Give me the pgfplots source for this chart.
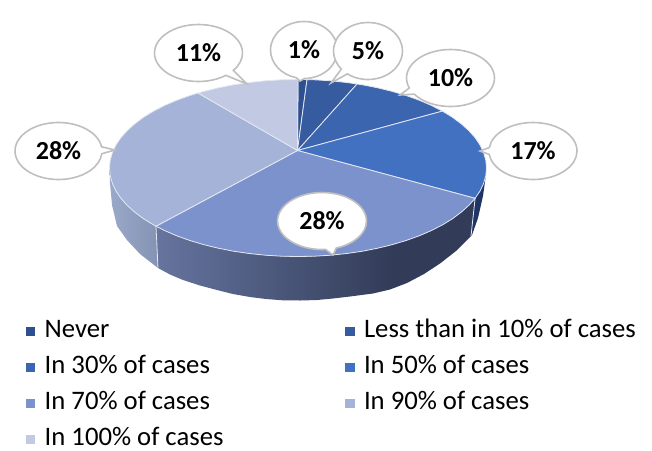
\documentclass[border=0pt]{standalone}
\usepackage{fontspec}
\setmainfont{Carlito}
\usepackage{pgfplots}
\pgfplotsset{compat=1.18}
\usetikzlibrary{shapes.callouts}
\definecolor{cA}{HTML}{2F5090}
\definecolor{cB}{HTML}{365B9F}
\definecolor{cC}{HTML}{3B65AE}
\definecolor{cD}{HTML}{4371C2}
\definecolor{cE}{HTML}{7C92CC}
\definecolor{cF}{HTML}{A4B3D7}
\definecolor{cG}{HTML}{C1CAE2}
\definecolor{rim}{HTML}{E4E8F2}
\definecolor{cgray}{HTML}{BFBFBF}
\definecolor{sA}{HTML}{66749F}
\definecolor{sB}{HTML}{323C58}
\definecolor{sC}{HTML}{9AA9C9}
\definecolor{sD}{HTML}{8593B3}
\definecolor{sE}{HTML}{1F3566}
\pgfdeclarehorizontalshading{sidesev}{100bp}{color(0bp)=(sA);color(25bp)=(sA);color(62bp)=(sB);color(75bp)=(sB);color(100bp)=(sB)}
\pgfdeclarehorizontalshading{sideni}{100bp}{color(0bp)=(sC);color(25bp)=(sC);color(75bp)=(sD);color(100bp)=(sD)}
\tikzset{lab/.style={ellipse callout,draw=cgray,line width=1.6pt,fill=white,inner sep=0pt,outer sep=0pt,callout pointer arc=14,font=\fontsize{26}{26}\selectfont\bfseries,text=black}}
\begin{document}
\begin{tikzpicture}
\begin{axis}[
  scale only axis,width=652pt,height=449pt,
  xmin=0,xmax=652,ymin=0,ymax=449,y dir=reverse,
  hide axis,clip=false,
  legend columns=2,
  legend cell align=left,
  legend image code/.code={\fill[#1,draw=none] (0pt,-4.7pt) rectangle (9.5pt,4.7pt);},
  legend style={at={(axis cs:25.7,321)},anchor=north west,draw=none,fill=none,inner sep=0pt,outer sep=0pt,
    font=\fontsize{26.7}{26.7}\selectfont,row sep=14.5pt,
    nodes={text height=16pt,text depth=5.5pt,inner sep=0pt,inner xsep=3pt},
    /tikz/column 1/.style={column sep=6.5pt},
    /tikz/column 2/.style={column sep=118.5pt},
    /tikz/column 3/.style={column sep=6.5pt}},
]
% sides
\addplot[forget plot,draw=none,shade,shading=sideni] coordinates {(109.5,168)(110.2,175.7)(112.4,183.4)(115.9,190.9)(120.9,198.3)(127.2,205.4)(134.8,212.2)(143.6,218.8)(153.6,224.9)(156,226.2)(158,268)(140,254)(127,240)(117,226)(112,205)(110,183)} --cycle;
\addplot[forget plot,draw=none,shade,shading=sidesev] coordinates {(156,226.2)(164.7,230.6)(176.8,235.8)(189.9,240.5)(203.7,244.6)(218.3,248.2)(233.5,251.2)(249.2,253.5)(265.3,255.2)(281.6,256.2)(298,256.5)(314.4,256.2)(330.7,255.2)(346.8,253.5)(362.5,251.2)(377.7,248.2)(392.3,244.6)(406.1,240.5)(419.2,235.8)(431.3,230.6)(442.4,224.9)(452.4,218.8)(461.2,212.2)(468.8,205.4)(475.1,198.3)(471,236)(456,251)(440,263.5)(424,274)(407,283)(390,289.5)(373,293.5)(350,296.5)(333,298.5)(317,300)(300,300.5)(283,300.3)(266,299)(250,297)(233,294)(217,290)(200,285.5)(183,280)(170,274.5)(158,268)} --cycle;
\addplot[forget plot,draw=none,fill=sE] coordinates {(475.1,198.3)(480.1,190.9)(483.6,183.4)(485.8,175.7)(483,196)(478,218)(472,235)(471,236)} --cycle;
\addplot[forget plot,draw=rim,line width=0.8pt] coordinates {(156,226.2)(158,268)};
\addplot[forget plot,draw=rim,line width=0.8pt] coordinates {(475.1,198.3)(471,236)};
% top wedges
\addplot[draw=rim,line width=0.8pt,fill=cA] coordinates {(297.5,150.5)(298,79.5)(307,79.6)} --cycle;
\addlegendentry{Never}
\addplot[draw=rim,line width=0.8pt,fill=cB] coordinates {(297.5,150.5)(307,79.6)(314.4,79.8)(330.7,80.8)(346.8,82.5)(357,84)} --cycle;
\addlegendentry{Less than in 10\% of cases}
\addplot[draw=rim,line width=0.8pt,fill=cC] coordinates {(297.5,150.5)(357,84)(362.5,84.8)(377.7,87.8)(392.3,91.4)(406.1,95.5)(419.2,100.2)(431.3,105.4)(442.4,111.1)} --cycle;
\addlegendentry{In 30\% of cases}
\addplot[draw=rim,line width=0.8pt,fill=cD] coordinates {(297.5,150.5)(442.4,111.1)(452.4,117.2)(461.2,123.8)(468.8,130.6)(475.1,137.7)(480.1,145.1)(483.6,152.6)(485.8,160.3)(486.5,168)(485.8,175.7)(483.6,183.4)(480.1,190.9)(475.1,198.3)} --cycle;
\addlegendentry{In 50\% of cases}
\addplot[draw=rim,line width=0.8pt,fill=cE] coordinates {(297.5,150.5)(475.1,198.3)(468.8,205.4)(461.2,212.2)(452.4,218.8)(442.4,224.9)(431.3,230.6)(419.2,235.8)(406.1,240.5)(392.3,244.6)(377.7,248.2)(362.5,251.2)(346.8,253.5)(330.7,255.2)(314.4,256.2)(298,256.5)(281.6,256.2)(265.3,255.2)(249.2,253.5)(233.5,251.2)(218.3,248.2)(203.7,244.6)(189.9,240.5)(176.8,235.8)(164.7,230.6)(156,226.2)} --cycle;
\addlegendentry{In 70\% of cases}
\addplot[draw=rim,line width=0.8pt,fill=cF] coordinates {(297.5,150.5)(156,226.2)(153.6,224.9)(143.6,218.8)(134.8,212.2)(127.2,205.4)(120.9,198.3)(115.9,190.9)(112.4,183.4)(110.2,175.7)(109.5,168)(110.2,160.3)(112.4,152.6)(115.9,145.1)(120.9,137.7)(127.2,130.6)(134.8,123.8)(143.6,117.2)(153.6,111.1)(164.7,105.4)(176.8,100.2)(189.9,95.5)(198,93)} --cycle;
\addlegendentry{In 90\% of cases}
\addplot[draw=rim,line width=0.8pt,fill=cG] coordinates {(297.5,150.5)(198,93)(203.7,91.4)(218.3,87.8)(233.5,84.8)(249.2,82.5)(265.3,80.8)(281.6,79.8)(298,79.5)} --cycle;
\addlegendentry{In 100\% of cases}
% labels
\node[lab,minimum width=88pt,minimum height=57pt,callout absolute pointer={(axis cs:247,84)}] at (axis cs:198.5,53) {11\%};
\node[lab,minimum width=67pt,minimum height=57pt,callout absolute pointer={(axis cs:300,81)}] at (axis cs:304,50) {1\%};
\node[lab,minimum width=69pt,minimum height=57pt,callout absolute pointer={(axis cs:331,83)}] at (axis cs:368,51) {5\%};
\node[lab,minimum width=88pt,minimum height=57pt,callout absolute pointer={(axis cs:400,95)}] at (axis cs:450.5,78) {10\%};
\node[lab,minimum width=88pt,minimum height=57pt,callout absolute pointer={(axis cs:480,151)}] at (axis cs:533,151) {17\%};
\node[lab,minimum width=87pt,minimum height=57pt,callout absolute pointer={(axis cs:115,150)}] at (axis cs:58.5,151) {28\%};
\node[lab,minimum width=89pt,minimum height=57pt,callout absolute pointer={(axis cs:333,255)}] at (axis cs:322,221) {28\%};
\end{axis}
\path (current axis.south west) (current axis.north east);
\end{tikzpicture}
\end{document}
